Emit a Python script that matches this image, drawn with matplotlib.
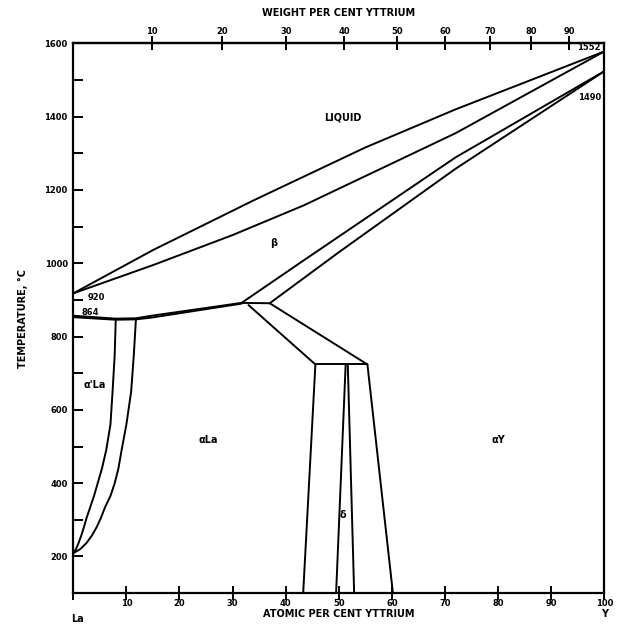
import numpy as np
import matplotlib.pyplot as plt
from matplotlib.ticker import MultipleLocator

# La-Y phase diagram (atomic % Y, deg C)
liquidus_x = [0, 15, 34, 55, 72, 100]
liquidus_t = [918, 1036, 1172, 1316, 1420, 1578]
solidus_x = [0, 15, 30, 43.4, 72, 100]
solidus_t = [918, 995, 1077, 1158, 1355, 1578]

beta_a_x = [31.7, 43.4, 72.0, 100]
beta_a_t = [892, 1008, 1289, 1524]
beta_b_x = [37.0, 50.0, 72.0, 100]
beta_b_t = [891, 1030, 1258, 1524]

eut_x = [31.7, 37.0]
eut_t = [892, 891]

low_a_x = [0, 8.0, 11.8, 14.8, 31.7]
low_a_t = [857, 849, 850, 857, 892]
low_b_x = [0, 8.0, 11.8, 14.8, 31.7]
low_b_t = [853, 846, 847, 852, 890]

curve_t = [848, 750, 650, 560, 490, 440, 400, 365, 335, 305, 280, 257, 237, 220, 209]
curve1_x = [8.0, 7.8, 7.4, 7.0, 6.2, 5.4, 4.6, 3.9, 3.2, 2.5, 2.0, 1.5, 1.0, 0.5, 0]
curve2_x = [11.8, 11.4, 10.9, 10.0, 9.1, 8.5, 7.8, 7.0, 6.0, 5.2, 4.4, 3.5, 2.5, 1.3, 0]

slope_l_x = [33.0, 45.6]
slope_l_t = [886, 724]
slope_r_x = [37.0, 55.4]
slope_r_t = [891, 724]
plat_x = [45.6, 55.4]
plat_t = [724, 724]

vert_lines = [
    ([45.6, 43.3], [724, 100]),
    ([51.3, 49.5], [724, 100]),
    ([51.7, 52.9], [724, 100]),
    ([55.4, 60.2], [724, 100]),
]

labels = [("LIQUID", 50.7, 1398), ("β", 37.8, 1055), ("α'La", 4.0, 667),
          ("αLa", 25.5, 518), ("αY", 80.0, 518), ("δ", 50.8, 313)]
point_labels = [("920", 4.3, 908), ("864", 3.2, 866)]

M_LA = 138.905
M_Y = 88.906


def at_to_wt(a):
    a = np.clip(np.asarray(a, dtype=float), 0, 100)
    return 100 * a * M_Y / (a * M_Y + (100 - a) * M_LA)


def wt_to_at(w):
    w = np.clip(np.asarray(w, dtype=float), 0, 100)
    return 100 * (w / M_Y) / (w / M_Y + (100 - w) / M_LA)


fig = plt.figure(figsize=(6.21, 6.29), dpi=100)
ax = fig.add_axes([0.118, 0.057, 0.855, 0.874])

lw = 1.4
for xs, ts in [(liquidus_x, liquidus_t), (solidus_x, solidus_t),
               (beta_a_x, beta_a_t), (beta_b_x, beta_b_t), (eut_x, eut_t),
               (low_a_x, low_a_t), (low_b_x, low_b_t),
               (curve1_x, curve_t), (curve2_x, curve_t),
               (slope_l_x, slope_l_t), (slope_r_x, slope_r_t),
               (plat_x, plat_t)] + vert_lines:
    ax.plot(xs, ts, color="black", lw=lw, solid_capstyle="round",
            solid_joinstyle="round")

fs = 7
for txt, x, t in labels:
    ax.text(x, t, txt, ha="center", va="center", fontsize=fs, fontweight="bold")
for txt, x, t in point_labels:
    ax.text(x, t, txt, ha="center", va="center", fontsize=6, fontweight="bold")
ax.text(99.3, 1590, "1552", ha="right", va="center", fontsize=6, fontweight="bold")
ax.text(99.5, 1452, "1490", ha="right", va="center", fontsize=6, fontweight="bold")

ax.set_xlim(0, 100)
ax.set_ylim(100, 1600)

for s in ax.spines.values():
    s.set_linewidth(1.6)

ax.set_xticks(np.arange(0, 101, 10))
ax.set_xticklabels([""] + [str(v) for v in range(10, 101, 10)],
                   fontsize=6, fontweight="bold")
ax.tick_params(axis="x", direction="inout", length=10, width=1.4, pad=-1)

ax.set_yticks(np.arange(200, 1601, 200))
ax.set_yticklabels([str(v) for v in range(200, 1601, 200)],
                   fontsize=6, fontweight="bold")
ax.yaxis.set_minor_locator(MultipleLocator(100))
ax.tick_params(axis="y", which="both", direction="in", length=7, width=1.4, pad=4)

top = ax.secondary_xaxis("top", functions=(at_to_wt, wt_to_at))
top.set_xticks(np.arange(10, 91, 10))
top.set_xticklabels([str(v) for v in range(10, 91, 10)], fontsize=6, fontweight="bold")
top.tick_params(direction="inout", length=10, width=1.4, pad=0)
top.spines["top"].set_linewidth(1.6)
top.set_xlabel("WEIGHT PER CENT YTTRIUM", fontsize=7, fontweight="bold", labelpad=8)

ax.set_xlabel("ATOMIC PER CENT YTTRIUM", fontsize=7, fontweight="bold", labelpad=1)
ax.set_ylabel("TEMPERATURE, °C", fontsize=7, fontweight="bold", labelpad=12)

ax.annotate("La", xy=(0, 0), xycoords="axes fraction", xytext=(3, -21),
            textcoords="offset points", fontsize=7, fontweight="bold", ha="center")
ax.annotate("Y", xy=(1, 0), xycoords="axes fraction", xytext=(0, -17),
            textcoords="offset points", fontsize=7, fontweight="bold", ha="center")

fig.savefig("out.png", dpi=100)
